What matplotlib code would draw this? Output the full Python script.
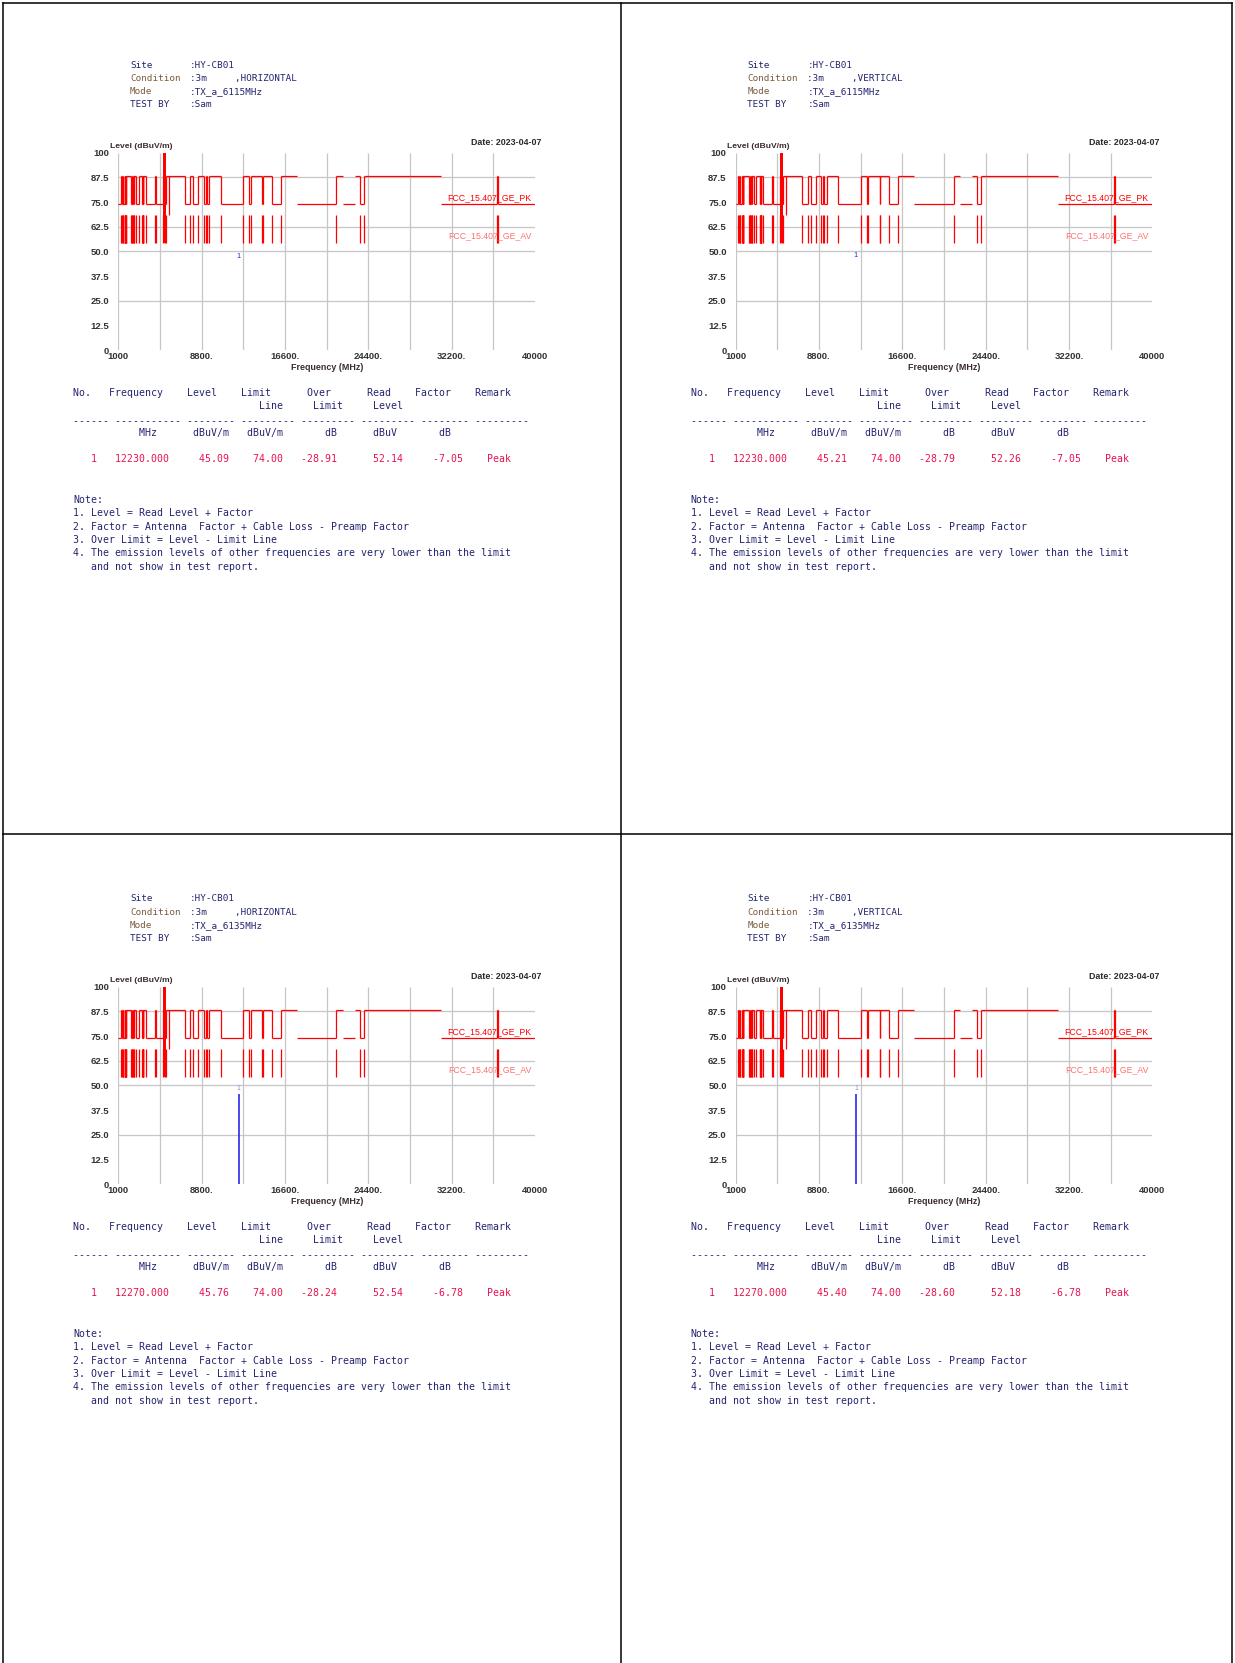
import numpy as np
import matplotlib.pyplot as plt
from matplotlib.lines import Line2D

W, H = 1235, 1663

# FCC restricted bands (MHz): PK limit drops to 74, AV limit to 54
band_start = [960, 1300, 1435, 1645.5, 1660, 1718.8, 2200, 2310, 2483.5, 2690,
              3260, 3332, 3345.8, 3600, 4500, 5350, 7250, 8025, 9000, 9300,
              10600, 13250, 14470, 15350, 17700, 22010, 23600, 31200, 36500]
band_end = [1240, 1427, 1626.5, 1646.5, 1710, 1722.2, 2300, 2390, 2500, 2900,
            3267, 3339, 3358, 4400, 5150, 5460, 7750, 8500, 9200, 9500,
            12700, 13400, 14500, 16200, 21400, 23120, 24000, 36430, 40000]
pk_high, pk_low = 88.2, 74.0
av_high, av_low = 68.2, 54.0
no_step = [17700, 22010, 23120, 31200]   # edges drawn without a vertical step
tx_band = [5150, 5460]
extra_edge = 5725

# one entry per panel: top-left, top-right, bottom-left, bottom-right
polarization = ['HORIZONTAL', 'VERTICAL', 'HORIZONTAL', 'VERTICAL']
mode = ['TX_a_6115MHz', 'TX_a_6115MHz', 'TX_a_6135MHz', 'TX_a_6135MHz']
peak_freq = [12230.0, 12230.0, 12270.0, 12270.0]
peak_level = [45.09, 45.21, 45.76, 45.40]
limit_line = [74.00, 74.00, 74.00, 74.00]
over_limit = [-28.91, -28.79, -28.24, -28.60]
read_level = [52.14, 52.26, 52.54, 52.18]
factor = [-7.05, -7.05, -6.78, -6.78]
show_stem = [False, False, True, True]

y_ticks = [0, 12.5, 25, 37.5, 50, 62.5, 75, 87.5, 100]
y_labels = ['0', '12.5', '25.0', '37.5', '50.0', '62.5', '75.0', '87.5', '100']
x_ticks = [1000, 8800, 16600, 24400, 32200, 40000]
x_labels = ['1000', '8800.', '16600.', '24400.', '32200.', '40000']
grid_y = [25, 50, 62.5, 87.5]

notes = ['Note:',
         '1. Level = Read Level + Factor',
         '2. Factor = Antenna  Factor + Cable Loss - Preamp Factor',
         '3. Over Limit = Level - Limit Line',
         '4. The emission levels of other frequencies are very lower than the limit',
         '   and not show in test report.']

NAVY = '#23236e'
BROWN = '#7a5a3c'
RED = '#ff0000'
DATA = '#e8124e'
GRID = '#c6c6c6'
MONO = 'DejaVu Sans Mono'
SANS = 'Liberation Sans'

fig = plt.figure(figsize=(W / 100, H / 100), dpi=100)


def put(x, y, s, **kw):
    kw.setdefault('va', 'center')
    fig.text(x / W, 1 - y / H, s, **kw)


def cols(items):
    line = [' '] * 80
    for c, t in items:
        line[c:c + len(t)] = list(t)
    return ''.join(line).rstrip()


def draw_panel(i, dx, dy):
    # header block
    hdr = [('Site', ':HY-CB01', NAVY),
           ('Condition', ':3m     ,' + polarization[i], BROWN),
           ('Mode', ':' + mode[i], BROWN),
           ('TEST BY', ':Sam', NAVY)]
    for k, (lab, val, c) in enumerate(hdr):
        y = 65 + k * 13.2 + dy
        put(130 + dx, y, lab, family=MONO, fontsize=6.65, color=c)
        put(190 + dx, y, val, family=MONO, fontsize=6.65, color=NAVY)

    ax = fig.add_axes([(118.3 + dx) / W, 1 - (350.2 + dy) / H, 416.7 / W, 197.6 / H])
    ax.set_xlim(1000, 40000)
    ax.set_ylim(0, 100)
    ax.patch.set_alpha(0)
    for s in ax.spines.values():
        s.set_visible(False)
    ax.hlines(grid_y, 1000, 40000, color=GRID, lw=0.9, zorder=0)
    ax.vlines(np.arange(1000, 40000, 3900), 0, 100, color=GRID, lw=0.9, zorder=0)

    ax.set_yticks(y_ticks)
    ax.set_yticklabels(y_labels, fontsize=6.8, fontweight='bold', family=SANS, color='#333333')
    ax.set_xticks(x_ticks)
    ax.set_xticklabels(x_labels, fontsize=6.8, fontweight='bold', family=SANS, color='#333333')
    ax.tick_params(axis='y', length=0, pad=6.5)
    ax.tick_params(axis='x', length=0, pad=1.5)

    # limit lines
    edges = sorted(set([1000, 40000] + [e for e in band_start + band_end if 1000 < e < 40000]))
    lv = []
    for a, b in zip(edges[:-1], edges[1:]):
        m = (a + b) / 2
        inside = any(s <= m <= e for s, e in zip(band_start, band_end))
        lv.append(pk_low if inside else pk_high)
    ax.hlines(lv, edges[:-1], edges[1:], color=RED, lw=0.9)
    steps = [e for e in edges[1:-1] if e not in no_step]
    ax.vlines(steps, pk_low, pk_high, color=RED, lw=0.9)
    ax.vlines(steps, av_low, av_high, color=RED, lw=0.9)
    ax.vlines(extra_edge, av_high, pk_high, color=RED, lw=0.9)
    ax.fill_between(tx_band, av_low, 100, color=RED, lw=0)

    ax.text(39650, 77.2, 'FCC_15.407_GE_PK', color=RED, fontsize=6.3, family=SANS,
            ha='right', va='center')
    ax.text(39700, 57.9, 'FCC_15.407_GE_AV', color='#ff7070', fontsize=6.3, family=SANS,
            ha='right', va='center')

    # measured peak
    if show_stem[i]:
        ax.vlines(peak_freq[i], 0, peak_level[i], color='#2a2ae8', lw=1.2)
        ax.text(peak_freq[i], peak_level[i] + 2.8, '1', color='#8c8cf0', fontsize=5,
                family=SANS, ha='center', va='center')
    else:
        ax.text(peak_freq[i], peak_level[i] + 2.5, '1', color='#3030d8', fontsize=5.5,
                family=SANS, ha='center', va='center')

    put(110 + dx, 146.7 + dy, 'Level (dBuV/m)', fontsize=6.1, fontweight='bold',
        family=SANS, color='#3a2c2c')
    put(541.7 + dx, 142.3 + dy, 'Date: 2023-04-07', fontsize=6.4, fontweight='bold',
        family=SANS, color='#2a2a2a', ha='right')
    put(326.7 + dx, 367 + dy, 'Frequency (MHz)', fontsize=6.4, fontweight='bold',
        family=SANS, color='#3a2c2c', ha='center')

    # result table
    x0 = 73.3 + dx
    tk = dict(family=MONO, fontsize=7.1)
    put(x0, 392.7 + dy, cols([(0, 'No.'), (6, 'Frequency'), (19, 'Level'), (28, 'Limit'),
                              (39, 'Over'), (49, 'Read'), (57, 'Factor'), (67, 'Remark')]),
        color=NAVY, **tk)
    put(x0, 406 + dy, cols([(31, 'Line'), (40, 'Limit'), (50, 'Level')]), color=NAVY, **tk)
    put(x0, 420.7 + dy, '------ ----------- -------- --------- --------- --------- -------- ---------',
        color=NAVY, **tk)
    put(x0, 433.3 + dy, cols([(11, 'MHz'), (20, 'dBuV/m'), (29, 'dBuV/m'), (42, 'dB'),
                              (50, 'dBuV'), (61, 'dB')]), color=NAVY, **tk)
    row = cols([(3, '1'), (7, '%.3f' % peak_freq[i]), (21, '%.2f' % peak_level[i]),
                (30, '%.2f' % limit_line[i]), (38, '%.2f' % over_limit[i]),
                (50, '%.2f' % read_level[i]), (60, '%.2f' % factor[i]), (69, 'Peak')])
    put(x0, 459.3 + dy, row, color=DATA, **tk)

    for k, n in enumerate(notes):
        put(x0, 500 + k * 13.35 + dy, n, color=NAVY, **tk)


offsets = [(0, 0), (617.4, 0), (0, 834), (617.4, 834)]
for i, (dx, dy) in enumerate(offsets):
    draw_panel(i, dx, dy)

# page frame
for x in [3, 620.7, 1232]:
    fig.add_artist(Line2D([x / W, x / W], [0, 1 - 3 / H], color='black', lw=1.1))
for y in [3, 834]:
    fig.add_artist(Line2D([3 / W, 1232 / W], [1 - y / H, 1 - y / H], color='black', lw=1.1))

fig.savefig('out.png', dpi=100)
